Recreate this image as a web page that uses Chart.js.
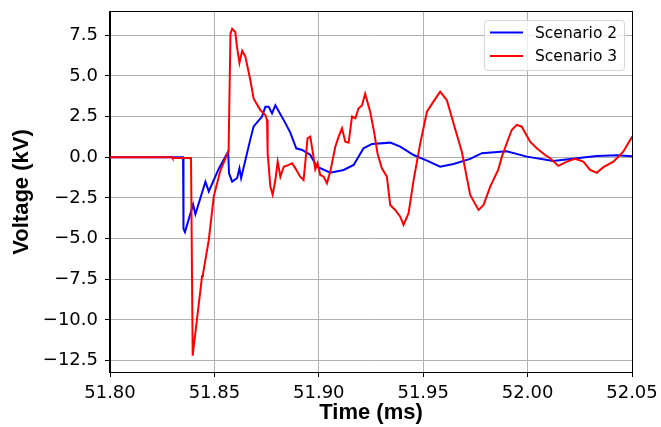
<!DOCTYPE html>
<html>
<head>
<meta charset="utf-8">
<script src="https://cdn.jsdelivr.net/npm/chart.js@4/dist/chart.umd.min.js"></script>
<style>
    html, body { margin: 0; padding: 0; background: #fff; }
    #wrap { width: 661px; height: 427px; }
</style>
</head>
<body>
<div id="wrap"><canvas id="voltage-chart"></canvas></div>
<script>
// Scenario 2 (blue) - time in ms, voltage in kV
var timeS2 = [51.800, 51.8350, 51.8352, 51.8359, 51.8398, 51.8409, 51.8457, 51.8473, 51.8521, 51.8566,
    51.8570, 51.8585, 51.8609, 51.8620, 51.8628, 51.8672, 51.8688, 51.8728, 51.8744, 51.8760,
    51.8776, 51.8792, 51.8840, 51.8864, 51.8892, 51.8920, 51.8959, 51.8991, 51.9055, 51.9119,
    51.9167, 51.9214, 51.9255, 51.9342, 51.9390, 51.9454, 51.9518, 51.9581, 51.9645, 51.9725,
    51.9781, 51.9900, 51.9996, 52.0123, 52.0235, 52.0331, 52.0427, 52.0501];
var voltS2 = [0, 0, -4.4, -4.6, -2.9, -3.5, -1.5, -2.1, -0.7, 0.35,
    -0.98, -1.5, -1.27, -0.68, -1.27, 1.1, 1.9, 2.5, 3.1, 3.1,
    2.7, 3.2, 2.1, 1.5, 0.55, 0.45, 0.15, -0.58, -0.95, -0.78,
    -0.47, 0.55, 0.82, 0.9, 0.65, 0.14, -0.21, -0.58, -0.41, -0.1,
    0.25, 0.37, 0.04, -0.23, -0.06, 0.08, 0.12, 0.06];

// Scenario 3 (red)
var timeS3 = [51.800, 51.8298, 51.8300, 51.8388, 51.8396, 51.8441, 51.8445, 51.8473, 51.8497, 51.8529,
    51.8564, 51.8568, 51.8577, 51.8585, 51.8600, 51.8608, 51.8620, 51.8633, 51.8648, 51.8672,
    51.8688, 51.8720, 51.8744, 51.8752, 51.8755, 51.8768, 51.8779, 51.8792, 51.8803, 51.8816,
    51.8832, 51.8856, 51.8872, 51.8888, 51.8911, 51.8927, 51.8935, 51.8946, 51.8959, 51.8972,
    51.8983, 51.8994, 51.9007, 51.9023, 51.9039, 51.9055, 51.9079, 51.9095, 51.9111, 51.9127,
    51.9143, 51.9159, 51.9175, 51.9190, 51.9207, 51.9222, 51.9246, 51.9266, 51.9281, 51.9302,
    51.9326, 51.9342, 51.9366, 51.9390, 51.9406, 51.9430, 51.9454, 51.9486, 51.9518, 51.9549,
    51.9581, 51.9613, 51.9645, 51.9685, 51.9725, 51.9765, 51.9789, 51.9821, 51.9860, 51.9877,
    51.9900, 51.9924, 51.9948, 51.9972, 52.0012, 52.0044, 52.0084, 52.0108, 52.0147, 52.0188,
    52.0227, 52.0267, 52.0299, 52.0331, 52.0363, 52.0411, 52.0458, 52.0501];
var voltS3 = [0, 0, -0.05, -0.05, -12.2, -7.3, -7.2, -5.1, -2.4, -0.8,
    0.25, 0.4, 7.6, 7.9, 7.7, 6.8, 5.8, 6.55, 6.2, 4.75,
    3.6, 2.9, 2.6, 2.3, 0.25, -1.8, -2.3, -1.4, -0.27, -1.2,
    -0.58, -0.47, -0.37, -0.68, -1.19, -1.4, -0.37, 1.17, 1.27, 0.25,
    -0.74, -0.37, -1.09, -1.19, -1.6, -0.88, 0.65, 1.27, 1.78, 0.96,
    0.9, 2.5, 2.4, 3.0, 3.2, 3.9, 2.8, 1.47, 0.25, -0.68,
    -1.19, -2.93, -3.24, -3.65, -4.16, -3.44, -1.4, 0.86, 2.8, 3.42,
    4.03, 3.52, 2.09, 0.34, -2.32, -3.24, -2.93, -1.8, -0.74, 0.04,
    0.86, 1.68, 1.99, 1.88, 0.96, 0.55, 0.14, -0.06, -0.53, -0.27,
    -0.09, -0.27, -0.78, -0.95, -0.61, -0.27, 0.34, 1.27];

var seriesNames = ['Scenario 2', 'Scenario 3'];
var xTicks = [51.80, 51.85, 51.90, 51.95, 52.00, 52.05];
var yTicks = [-12.5, -10, -7.5, -5, -2.5, 0, 2.5, 5, 7.5];

var tickFont = { family: '"DejaVu Sans"', size: 18 };
var titleFont = { family: '"Liberation Sans", Arial', size: 22, weight: 'bold', lineHeight: 1.1 };

function toPoints(xs, ys) {
    return xs.map(function(x, i) { return { x: x, y: ys[i] }; });
}

// no extra room for overhanging tick labels, the layout padding handles it
function noPadding(scale) {
    scale.paddingTop = 0;
    scale.paddingBottom = 0;
    scale.paddingLeft = 0;
    scale.paddingRight = 0;
}

// Frame on all four sides (matplotlib style spines)
var framePlugin = {
    id: 'frame',
    afterDatasetsDraw: function(chart) {
        var a = chart.chartArea, ctx = chart.ctx;
        ctx.save();
        ctx.strokeStyle = '#000';
        ctx.lineWidth = 1;
        ctx.strokeRect(Math.round(a.left) - 0.5, Math.round(a.top) - 0.5,
            Math.round(a.right - a.left) + 1, Math.round(a.bottom - a.top) + 1);
        ctx.restore();
    }
};

// Legend box in upper right corner
var boxLegendPlugin = {
    id: 'boxLegend',
    afterDraw: function(chart) {
        var a = chart.chartArea, ctx = chart.ctx;
        var w = 140, h = 50;
        var x0 = a.right - 8 - w, y0 = a.top + 8;
        ctx.save();
        ctx.beginPath();
        ctx.roundRect(x0 + 0.5, y0 + 0.5, w, h, 3);
        ctx.fillStyle = 'rgba(255,255,255,0.8)';
        ctx.fill();
        ctx.strokeStyle = 'rgba(204,204,204,0.8)';
        ctx.lineWidth = 1;
        ctx.stroke();
        ctx.font = '15.5px "DejaVu Sans"';
        ctx.textBaseline = 'middle';
        chart.data.datasets.forEach(function(ds, i) {
            var yy = y0 + 12.5 + i * 23.4;
            ctx.strokeStyle = ds.borderColor;
            ctx.lineWidth = 2;
            ctx.beginPath();
            ctx.moveTo(x0 + 6, yy);
            ctx.lineTo(x0 + 39, yy);
            ctx.stroke();
            ctx.fillStyle = '#000';
            ctx.fillText(ds.label, x0 + 51, yy + 1);
        });
        ctx.restore();
    }
};

var ctx = document.getElementById('voltage-chart').getContext('2d');
new Chart(ctx, {
    type: 'line',
    data: {
        datasets: [{
            label: seriesNames[0],
            data: toPoints(timeS2, voltS2),
            borderColor: '#0000ff',
            borderWidth: 2,
            pointRadius: 0,
            tension: 0,
            order: 2
        }, {
            label: seriesNames[1],
            data: toPoints(timeS3, voltS3),
            borderColor: '#ff0000',
            borderWidth: 2,
            pointRadius: 0,
            tension: 0,
            order: 1
        }]
    },
    options: {
        responsive: true,
        maintainAspectRatio: false,
        animation: false,
        layout: {
            padding: { top: 12, right: 29, left: 0, bottom: 0 }
        },
        plugins: {
            legend: { display: false },
            tooltip: { enabled: false }
        },
        scales: {
            x: {
                type: 'linear',
                min: 51.80,
                max: 52.05,
                afterBuildTicks: function(scale) {
                    scale.ticks = xTicks.map(function(v) { return { value: v }; });
                },
                afterFit: function(scale) {
                    scale.height = 55;
                    noPadding(scale);
                },
                grid: { color: '#b0b0b0', lineWidth: 1, tickLength: 5, tickColor: '#000' },
                border: { color: '#000', width: 1 },
                ticks: {
                    color: '#000',
                    font: tickFont,
                    padding: 6,
                    maxRotation: 0,
                    autoSkip: false,
                    callback: function(v) { return v.toFixed(2); }
                },
                title: {
                    display: true,
                    text: 'Time (ms)',
                    color: '#000',
                    font: titleFont,
                    padding: { top: 0, bottom: 2 }
                }
            },
            y: {
                min: -13.2,
                max: 8.93,
                afterBuildTicks: function(scale) {
                    scale.ticks = yTicks.map(function(v) { return { value: v }; });
                },
                afterFit: function(scale) {
                    scale.width = 110;
                    noPadding(scale);
                },
                grid: { color: '#b0b0b0', lineWidth: 1, tickLength: 5, tickColor: '#000' },
                border: { color: '#000', width: 1 },
                ticks: {
                    color: '#000',
                    font: tickFont,
                    padding: 7,
                    callback: function(v) { return v.toFixed(1).replace('-', '\u2212'); }
                },
                title: {
                    display: true,
                    text: 'Voltage (kV)',
                    color: '#000',
                    font: titleFont,
                    padding: { top: 10, bottom: 0 }
                }
            }
        }
    },
    plugins: [framePlugin, boxLegendPlugin]
});
</script>
</body>
</html>
